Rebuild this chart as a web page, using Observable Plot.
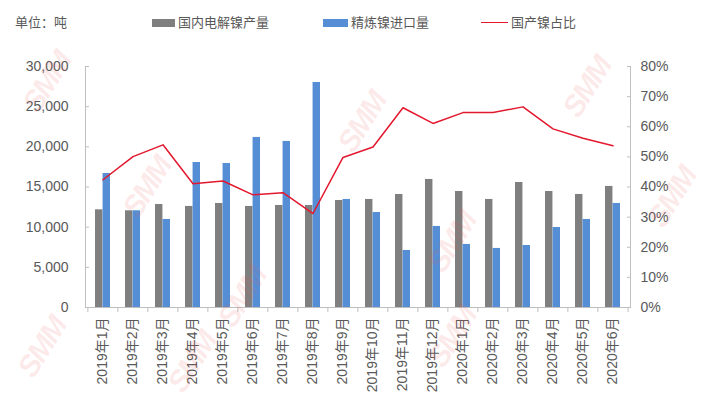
<!DOCTYPE html>
<html>
<head>
<meta charset="utf-8">
<script src="https://cdn.jsdelivr.net/npm/d3@7"></script>
<script src="https://cdn.jsdelivr.net/npm/@observablehq/plot@0.6"></script>
<style>
  body { margin: 0; background: #fff; }
  #wrap { position: relative; width: 705px; height: 397px; overflow: hidden;
          font-family: "Liberation Sans", "Noto Sans CJK SC", sans-serif; color: #595959; }
  #legend { position: relative; height: 45px; font-size: 13px; }
  #legend .it { position: absolute; top: 14px; white-space: nowrap; line-height: 16px; }
  .sw { display: inline-block; vertical-align: middle; }
  .wm { position: absolute; font: italic bold 30px "Liberation Sans", sans-serif; color: rgba(235,90,90,0.13);
        transform: rotate(-58deg); pointer-events: none; letter-spacing: -2px; }
</style>
</head>
<body>
<div id="wrap">
  <div id="legend"></div>
  <div id="chart"></div>
</div>
<script>
const months = ["2019年1月","2019年2月","2019年3月","2019年4月","2019年5月","2019年6月","2019年7月","2019年8月","2019年9月","2019年10月","2019年11月","2019年12月","2020年1月","2020年2月","2020年3月","2020年4月","2020年5月","2020年6月"];
const domestic = [12160,12040,12820,12580,12950,12580,12700,12700,13320,13450,14070,15940,14440,13450,15560,14440,14070,15070];
const imports  = [16680,12040,10960,18050,17930,21170,20670,28010,13450,11830,7100,10090,7850,7350,7720,9960,10960,12950];
const share    = [42.4,50.1,54.0,41.1,42.0,37.4,38.1,31.2,49.8,53.3,66.3,61.1,64.7,64.7,66.6,59.3,56.2,53.7];
const leftTicks = [0,5000,10000,15000,20000,25000,30000];
const rightTicks = [0,10,20,30,40,50,60,70,80];
const seriesNames = ["国内电解镍产量","精炼镍进口量","国产镍占比"];
const unitLabel = "单位：吨";

const colors = {gray: "#7f7f7f", blue: "#558ed5", red: "#e3172d", axis: "#bfbfbf", text: "#595959"};
const yMax = 30000, pMax = 80;
const k = yMax / pMax; // percent -> left-axis units

const rows = months.map((m, i) => ({month: m, domestic: domestic[i], imports: imports[i], share: share[i] * k}));
const bounds = months.map((m, i) => ({month: m, side: -1})).concat([{month: months[months.length-1], side: 1}]);

const W = 705, H = 352;
const mL = 85, mR = 75, mT = 21, mB = 90;
const step = (W - mL - mR) / months.length;
const half = step * 0.5 / 2;

const plot = Plot.plot({
  width: W, height: H,
  marginLeft: mL, marginRight: mR, marginTop: mT, marginBottom: mB,
  style: {fontFamily: '"Liberation Sans", "Noto Sans CJK SC", sans-serif', fontSize: "14px", color: colors.text, background: "transparent"},
  x: {domain: months, paddingInner: 0.5, paddingOuter: 0.25, axis: null, label: null},
  y: {domain: [0, yMax], axis: null, label: null},
  marks: [
    Plot.barY(rows, {x: "month", y: "domestic", fill: colors.gray, insetRight: half}),
    Plot.barY(rows, {x: "month", y: "imports", fill: colors.blue, insetLeft: half}),
    Plot.ruleY([0], {stroke: colors.axis}),
    Plot.frame({anchor: "left", stroke: colors.axis}),
    Plot.frame({anchor: "right", stroke: colors.axis}),
    Plot.ruleX(bounds.filter(d => d.side < 0), {x: "month", dx: -step / 2, y1: 0, y2: 0, insetTop: 5, stroke: colors.axis}),
    Plot.ruleX(bounds.filter(d => d.side > 0), {x: "month", dx: step / 2, y1: 0, y2: 0, insetTop: 5, stroke: colors.axis}),
    Plot.line(rows, {x: "month", y: "share", stroke: colors.red, strokeWidth: 1.5}),
    Plot.axisY(leftTicks, {anchor: "left", tickSize: -4, tickPadding: 21, stroke: colors.axis, fill: colors.text, tickFormat: d3.format(","), label: null}),
    Plot.axisY(rightTicks.map(p => p * k), {anchor: "right", tickSize: -4, tickPadding: 14, stroke: colors.axis, fill: colors.text, tickFormat: d => Math.round(d / k) + "%", label: null}),
    Plot.axisX(months, {anchor: "bottom", tickSize: 0, tickPadding: 10, tickRotate: -90, fill: colors.text, label: null})
  ]
});
document.getElementById("chart").appendChild(plot);

// Legend
const lg = document.getElementById("legend");
function item(left, swatchHtml, label) {
  const d = document.createElement("div");
  d.className = "it";
  d.style.left = left + "px";
  d.innerHTML = swatchHtml + "<span style='vertical-align:middle'>" + label + "</span>";
  lg.appendChild(d);
}
item(15, "", unitLabel);
item(152, `<span class="sw" style="width:23px;height:8px;background:${colors.gray};margin-right:3px"></span>`, seriesNames[0]);
item(323, `<span class="sw" style="width:25px;height:8px;background:${colors.blue};margin-right:3px"></span>`, seriesNames[1]);
item(481, `<span class="sw" style="width:27px;height:1.5px;background:${colors.red};margin-right:3px"></span>`, seriesNames[2]);

// watermarks
const wmPos = [[15,65],[330,105],[115,170],[210,280],[420,225],[555,70],[640,180],[160,345],[420,320],[10,330]];
const wrap = document.getElementById("wrap");
wmPos.forEach(([x, y]) => {
  const s = document.createElement("div");
  s.className = "wm"; s.textContent = "SMM";
  s.style.left = x + "px"; s.style.top = y + "px";
  wrap.appendChild(s);
});
</script>
</body>
</html>
